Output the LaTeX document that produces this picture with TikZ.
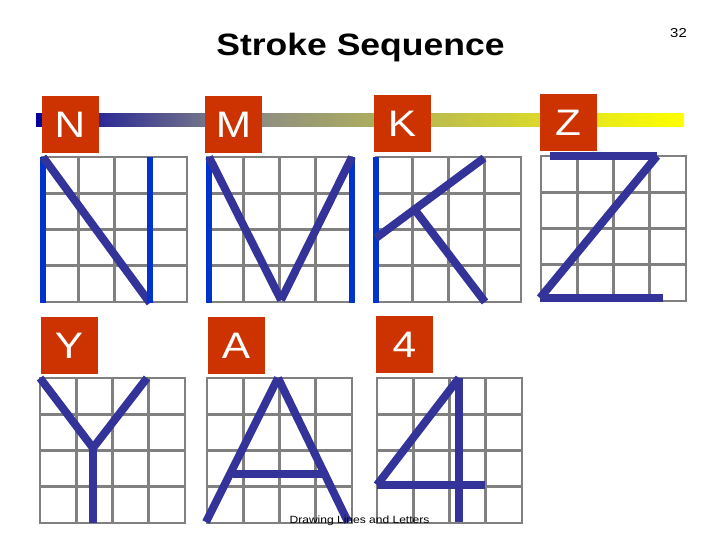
\documentclass[tikz,border=0pt]{standalone}
\usepackage{fontspec}
\setmainfont{Liberation Sans}
\newfontfamily\widesans[FakeStretch=1.15]{Liberation Sans}

\definecolor{boxred}{RGB}{204,51,0}
\definecolor{strokenavy}{RGB}{51,51,153}
\definecolor{strokeblue}{RGB}{0,51,204}
\definecolor{gridgray}{RGB}{128,128,128}
\definecolor{barnavy}{RGB}{0,0,153}
\definecolor{bargray}{RGB}{136,136,136}
\pgfdeclarehorizontalshading{seqbar}{100bp}{color(0bp)=(barnavy); color(25bp)=(barnavy);
  color(40.5bp)=(bargray); color(75bp)=(yellow); color(100bp)=(yellow)}

\begin{document}
\begin{tikzpicture}[
    x=1bp, y=-1bp,
    gridline/.style={draw=gridgray, line width=2.6bp, line cap=rect},
    navyline/.style={draw=strokenavy, line width=8bp},
    blueline/.style={draw=strokeblue, line width=6.5bp},
    lbox/.style={fill=boxred, text=white, minimum width=57bp, minimum height=57bp,
                 inner sep=0pt, font=\widesans\fontsize{37}{37}\selectfont}
  ]
  \useasboundingbox (0,0) rectangle (720,540);

  % Title and page number
  \node[font=\widesans\bfseries\fontsize{31}{31}\selectfont, anchor=base] (title) at (360.5,56) {Stroke Sequence};
  \node[font=\widesans\fontsize{13}{13}\selectfont, anchor=base] (pageno) at (678.5,38) {32};

  % Shaded bar behind the first row of letters
  \shade[shading=seqbar] (36,114) rectangle (684,127);

  % 4x4 writing grids
  \foreach \gx/\gy in {42/157, 207/157, 376/157, 541/156, 40/378, 207/378, 377/378}
    \foreach \k in {0,...,4} {
      \draw[gridline] ({\gx+\k*36.25},\gy) -- ++(0,145);
      \draw[gridline] (\gx,{\gy+\k*36.25}) -- ++(145,0);
    }

  % Letter boxes
  \node[lbox] (boxN) at (70,125) {N};
  \node[lbox] (boxM) at (233.5,124.5) {M};
  \node[lbox] (boxK) at (402,124) {K};
  \node[lbox] (boxZ) at (568,123) {Z};
  \node[lbox] (boxY) at (69,345.5) {Y};
  \node[lbox] (boxA) at (236,345.5) {A};
  \node[lbox] (box4) at (404.5,344.5) {4};

  % N
  \draw[blueline] (43,157) -- (43,303);
  \draw[navyline] (43,157) -- (150,303);
  \draw[blueline] (150,157) -- (150,303);
  % M
  \draw[blueline] (209,157) -- (209,303);
  \draw[blueline] (352,157) -- (352,303);
  \draw[navyline] (209,157) -- (281,300);
  \draw[navyline] (281,300) -- (352,157);
  % K
  \draw[blueline] (376,157) -- (376,303);
  \draw[navyline] (376,238) -- (484,158);
  \draw[navyline] (415,210) -- (485,302);
  % Z
  \draw[navyline] (550,156) -- (657,156);
  \draw[navyline] (657,156) -- (540,298);
  \draw[navyline] (540,298) -- (663,298);
  % Y
  \draw[navyline] (40,378) -- (93,448);
  \draw[navyline] (147,378) -- (93,448);
  \draw[navyline] (93,448) -- (93,523);
  % A
  \draw[navyline] (206,522) -- (278,378);
  \draw[navyline] (278,378) -- (348,522);
  \draw[navyline] (233,474) -- (326,474);
  % 4
  \draw[navyline] (459,378) -- (377,485);
  \draw[navyline] (377,485) -- (485,485);
  \draw[navyline] (459,378) -- (459,522);

  % Footer
  \node[font=\widesans\fontsize{10.5}{10.5}\selectfont, anchor=base] (footer) at (359.5,523) {Drawing Lines and Letters};
\end{tikzpicture}
\end{document}
